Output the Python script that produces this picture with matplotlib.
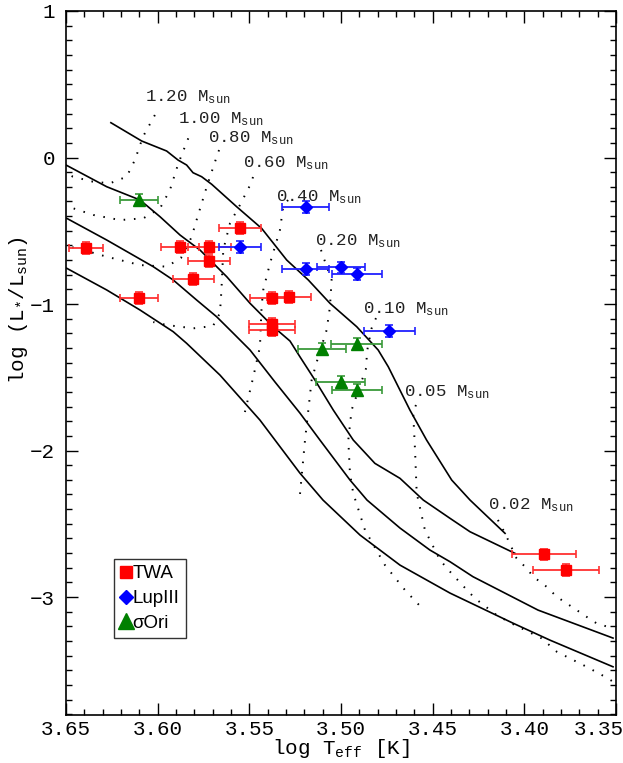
import numpy as np
import matplotlib
matplotlib.use("Agg")
from matplotlib import pyplot as plt
from matplotlib.lines import Line2D
from matplotlib.ticker import MultipleLocator, FormatStrFormatter
from matplotlib.transforms import ScaledTranslation

plt.rcParams['font.family'] = ['Liberation Mono', 'DejaVu Sans']
plt.rcParams['mathtext.fontset'] = 'custom'
plt.rcParams['mathtext.rm'] = 'Liberation Mono'
plt.rcParams['mathtext.it'] = 'Liberation Mono'

# observed objects: log Teff, log L, errors
twa_t = [3.6391, 3.6103, 3.5878, 3.5718, 3.5720, 3.5806, 3.5551, 3.5378, 3.5284, 3.5376, 3.5376, 3.3894, 3.3771]
twa_l = [-0.616, -0.961, -0.611, -0.609, -0.706, -0.829, -0.481, -0.959, -0.950, -1.137, -1.177, -2.709, -2.816]
twa_te = [0.0095, 0.0105, 0.0105, 0.0117, 0.0117, 0.0112, 0.0117, 0.012, 0.012, 0.0123, 0.0123, 0.0175, 0.018]

lup_t = [3.5191, 3.5191, 3.5000, 3.4914, 3.4737, 3.5551]
lup_l = [-0.340, -0.763, -0.750, -0.793, -1.186, -0.609]
lup_te = [0.0128, 0.0128, 0.0133, 0.0136, 0.014, 0.0117]

sori_t = [3.6102, 3.5102, 3.4914, 3.5002, 3.4914]
sori_l = [-0.290, -1.309, -1.275, -1.530, -1.589]
sori_te = [0.0105, 0.013, 0.0138, 0.0133, 0.0136]

lerr = 0.04

# isochrones (solid)
iso_a_t = [3.6255, 3.6087, 3.5951, 3.5889, 3.5842, 3.5807, 3.5760, 3.5705, 3.5569, 3.5433, 3.5296,
           3.5178, 3.5060, 3.4914, 3.4797, 3.4742, 3.4624, 3.4533, 3.4396, 3.4296, 3.4105]
iso_a_l = [0.2375, 0.1126, 0.0444, -0.0171, -0.0512, -0.1038, -0.1311, -0.1829, -0.3358, -0.4833, -0.6997,
           -0.8362, -0.9952, -1.1549, -1.3140, -1.4280, -1.7235, -1.9283, -2.2014, -2.3379, -2.5652]

iso_b_t = [3.65, 3.6278, 3.6096, 3.5987, 3.5878, 3.5769, 3.5623, 3.5496, 3.5369, 3.5278, 3.5224,
           3.5142, 3.5042, 3.4933, 3.4815, 3.4678, 3.4551, 3.4405, 3.4296, 3.4051]
iso_b_l = [-0.0512, -0.1993, -0.2901, -0.4041, -0.5290, -0.6314, -0.8137, -0.9952, -1.1549, -1.2526, -1.3597,
           -1.5188, -1.7235, -1.9283, -2.0874, -2.1898, -2.3379, -2.4628, -2.5543, -2.7017]

iso_c_t = [3.6496, 3.6278, 3.6024, 3.5915, 3.5787, 3.5678, 3.5587, 3.5496, 3.5360, 3.5224, 3.5115,
           3.4951, 3.4858, 3.4678, 3.4515, 3.4405, 3.4280, 3.3925, 3.3516]
iso_c_l = [-0.415, -0.563, -0.745, -0.836, -0.973, -1.087, -1.200, -1.314, -1.532, -1.744, -1.928,
           -2.201, -2.338, -2.529, -2.679, -2.759, -2.861, -3.089, -3.280]

iso_d_t = [3.6496, 3.6278, 3.6096, 3.5915, 3.5842, 3.5660, 3.5442, 3.5224, 3.5098, 3.4896, 3.4678,
           3.4405, 3.4062, 3.3860, 3.3516]
iso_d_l = [-0.756, -0.904, -1.041, -1.189, -1.268, -1.485, -1.792, -2.154, -2.338, -2.577, -2.782,
           -2.973, -3.178, -3.294, -3.476]

# evolutionary tracks (dotted)
trk_120_t = [3.6015, 3.6080, 3.6124, 3.6169, 3.6260, 3.6353, 3.6462, 3.65]
trk_120_l = [0.290, 0.142, -0.017, -0.131, -0.176, -0.165, -0.131, -0.106]
trk_100_t = [3.5833, 3.5887, 3.5933, 3.5987, 3.6078, 3.6205, 3.6351, 3.6460, 3.6496]
trk_100_l = [0.131, -0.040, -0.222, -0.347, -0.415, -0.427, -0.392, -0.347, -0.336]
trk_080_t = [3.5665, 3.5678, 3.5731, 3.5796, 3.5814, 3.5873, 3.5951, 3.6096, 3.6278, 3.6406, 3.6478, 3.65]
trk_080_l = [0.051, 0.005, -0.195, -0.461, -0.541, -0.686, -0.745, -0.734, -0.677, -0.631, -0.609, -0.601]
trk_060_t = [3.5480, 3.5487, 3.5551, 3.5605, 3.5642, 3.5652, 3.5660, 3.5698, 3.5806, 3.5951, 3.6024]
trk_060_l = [-0.133, -0.167, -0.324, -0.447, -0.631, -0.904, -1.061, -1.150, -1.166, -1.143, -1.123]
trk_040_t = [3.5289, 3.5315, 3.5333, 3.5387, 3.5424, 3.5433, 3.5442, 3.5478, 3.5524]
trk_040_l = [-0.290, -0.336, -0.495, -0.722, -0.904, -1.018, -1.292, -1.496, -1.737]
trk_020_t = [3.5109, 3.5087, 3.5051, 3.5060, 3.5078, 3.5124, 3.5160, 3.5196, 3.5224]
trk_020_l = [-0.631, -0.711, -0.836, -1.018, -1.177, -1.360, -1.519, -1.928, -2.304]
trk_010_t = [3.4809, 3.4833, 3.4860, 3.4860, 3.4942, 3.4960, 3.4951, 3.4933, 3.4869, 3.4760, 3.4651, 3.4569]
trk_010_l = [-1.096, -1.166, -1.337, -1.428, -1.7235, -1.928, -2.156, -2.292, -2.543, -2.782, -2.952, -3.061]
trk_005_t = [3.4591, 3.4606, 3.4596, 3.4587, 3.4542, 3.4460, 3.4405, 3.4333, 3.4269, 3.4151, 3.4069,
             3.3905, 3.3823, 3.3733, 3.3660, 3.3560, 3.3515]
trk_005_l = [-1.689, -1.744, -1.997, -2.290, -2.543, -2.747, -2.827, -2.925, -3.009, -3.123, -3.180,
             -3.282, -3.373, -3.430, -3.476, -3.544, -3.578]
trk_002_t = [3.4144, 3.4105, 3.4042, 3.3987, 3.3951, 3.3878, 3.3823, 3.3769, 3.3714, 3.3660, 3.3605, 3.3516]
trk_002_l = [-2.474, -2.565, -2.736, -2.804, -2.861, -2.930, -2.998, -3.043, -3.089, -3.135, -3.180, -3.214]

mass_labels = ['1.20', '1.00', '0.80', '0.60', '0.40', '0.20', '0.10', '0.05', '0.02']
mass_lab_t = [3.6069, 3.5887, 3.5727, 3.5536, 3.5354, 3.5142, 3.4882, 3.4655, 3.4198]
mass_lab_l = [0.415, 0.263, 0.131, -0.040, -0.268, -0.570, -1.034, -1.599, -2.372]

fig = plt.figure(figsize=(6.23, 7.63), dpi=100)
ax = fig.add_axes([0.1059, 0.0629, 0.8828, 0.9227])

for t, l in [(iso_a_t, iso_a_l), (iso_b_t, iso_b_l), (iso_c_t, iso_c_l), (iso_d_t, iso_d_l)]:
    ax.plot(t, l, color='black', lw=1.2)

tracks = [(trk_120_t, trk_120_l), (trk_100_t, trk_100_l), (trk_080_t, trk_080_l),
          (trk_060_t, trk_060_l), (trk_040_t, trk_040_l), (trk_020_t, trk_020_l),
          (trk_010_t, trk_010_l), (trk_005_t, trk_005_l), (trk_002_t, trk_002_l)]
for t, l in tracks:
    ax.plot(t, l, color='black', lw=1.4, linestyle=(0, (0.8, 4.5)))

for lab, t, l in zip(mass_labels, mass_lab_t, mass_lab_l):
    ax.text(t, l, lab + r' $\mathrm{M_{sun}}$', fontsize=12.5, color='#222222',
            ha='left', va='center')

ax.errorbar(twa_t, twa_l, xerr=twa_te, yerr=lerr, fmt='s', color='red', ms=7.5,
            ecolor='#ff3030', elinewidth=1.3, capsize=3, capthick=1.2, zorder=5)
ax.errorbar(lup_t, lup_l, xerr=lup_te, yerr=lerr, fmt='D', color='blue', ms=6.5,
            ecolor='#2020ff', elinewidth=1.3, capsize=3, capthick=1.2, zorder=5)
ax.errorbar(sori_t, sori_l, xerr=sori_te, yerr=lerr, fmt='^', color='green', ms=9,
            ecolor='#3a9a3a', elinewidth=1.3, capsize=3, capthick=1.2, zorder=5)

ax.set_xlim(3.65, 3.35)
ax.set_ylim(-3.805, 1.0)
ax.xaxis.set_major_locator(MultipleLocator(0.05))
ax.xaxis.set_minor_locator(MultipleLocator(0.01))
ax.xaxis.set_major_formatter(FormatStrFormatter('%.2f'))
ax.yaxis.set_major_locator(MultipleLocator(1))
ax.yaxis.set_minor_locator(MultipleLocator(0.1))
ax.tick_params(which='both', direction='in', top=True, right=True, labelsize=15, width=1)
ax.tick_params(which='major', length=8.5)
ax.tick_params(which='minor', length=4.5)
ax.tick_params(axis='y', pad=8)
for s in ax.spines.values():
    s.set_linewidth(1.2)

ax.set_xlabel(r'log T$_{\mathrm{eff}}$ [K]', fontsize=15, labelpad=-1)
ax.set_ylabel(r'log (L$_{*}$/L$_{\mathrm{sun}}$)', fontsize=15)
ax.yaxis.set_label_coords(-0.066, 0.575)

handles = [Line2D([], [], marker='s', color='red', ls='none', ms=9),
           Line2D([], [], marker='D', color='blue', ls='none', ms=7.5),
           Line2D([], [], marker='^', color='green', ls='none', ms=11)]
leg = ax.legend(handles, ['TWA', 'LupIII', 'σOri'], loc='lower left',
                bbox_to_anchor=(0.087, 0.109), prop={'family': 'Liberation Sans', 'size': 13.5},
                handlelength=0.6, handletextpad=0.05, borderpad=0.35, labelspacing=0.4,
                borderaxespad=0, fancybox=False, frameon=True)
leg.get_frame().set_edgecolor('black')
leg.get_frame().set_linewidth(1)

# the 3.35 label sits a bit inward so it stays inside the figure
fig.canvas.draw()
for lab in ax.get_xticklabels():
    if lab.get_text() == '3.35':
        lab.set_transform(lab.get_transform() + ScaledTranslation(-0.17, 0, fig.dpi_scale_trans))

plt.savefig('out.png', dpi=100)
